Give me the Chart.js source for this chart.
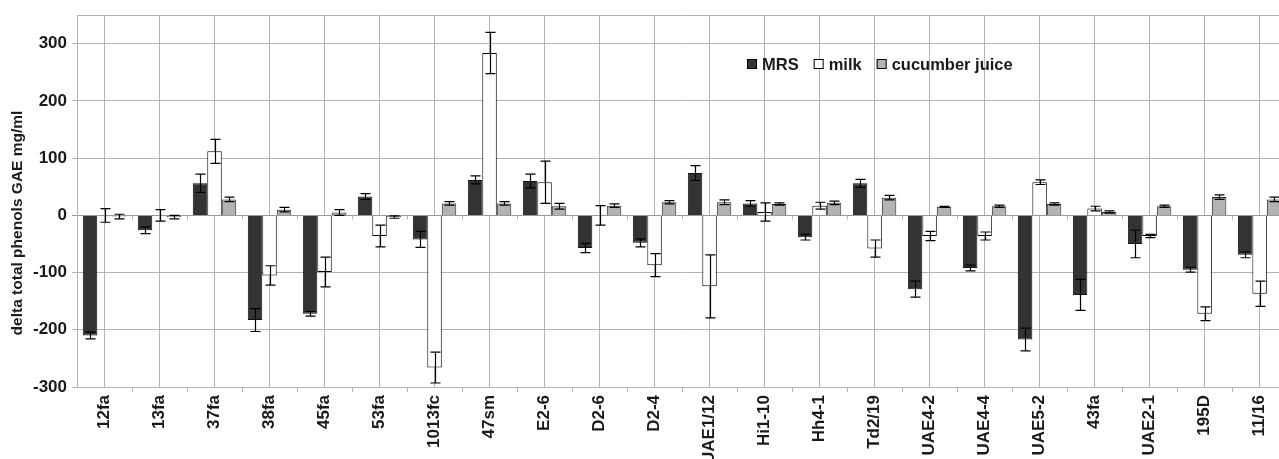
<!DOCTYPE html>
<html>
<head>
<meta charset="utf-8">
<script src="https://cdn.jsdelivr.net/npm/chart.js@4/dist/chart.umd.min.js"></script>
<style>
  html, body { margin: 0; padding: 0; background: #fff; overflow: hidden; }
  #wrap { width: 1288px; height: 459px; }
</style>
</head>
<body>
<div id="wrap"><canvas id="c" width="1288" height="459"></canvas></div>
<script>
// Strains
const categories = ['12fa','13fa','37fa','38fa','45fa','53fa','1013fc','47sm','E2-6','D2-6','D2-4','UAE1/12','Hi1-10','Hh4-1','Td2/19','UAE4-2','UAE4-4','UAE5-2','43fa','UAE2-1','195D','11/16'];

// Change in total phenols (GAE mg/ml) per growth medium, with error margins
const mrsValues = [-210, -26, 56, -183, -172, 33, -42, 62, 60, -57, -48, 74, 21, -38, 56, -129, -92, -217, -139, -50, -95, -69];
const mrsErrors = [6, 6, 16, 20, 4, 5, 14, 7, 12, 8, 7, 13, 5, 5, 7, 14, 5, 20, 27, 24, 4, 5];

const milkValues = [0, 0, 112, -105, -99, -36, -266, 284, 58, 0, -87, -124, 6, 17, -58, -36, -36, 58, 12, -36, -172, -137];
const milkErrors = [12, 10, 21, 17, 26, 19, 27, 36, 37, 17, 20, 55, 16, 6, 15, 8, 7, 4, 4, 3, 12, 22];

const cucumberValues = [-2, -3, 28, 10, 5, -3, 21, 21, 16, 17, 23, 23, 20, 22, 31, 15, 16, 20, 6, 16, 32, 28];
const cucumberErrors = [4, 3, 4, 4, 5, 2, 3, 3, 5, 3, 3, 4, 2, 3, 4, 1, 2, 2, 2, 2, 4, 4];

// Value axis
const yTicks = [-300, -200, -100, 0, 100, 200, 300];
const yMin = -300;
const yMax = 350;
const yTitle = 'delta total phenols GAE mg/ml';

const FONT = "'Liberation Sans', Arial, sans-serif";
const GRID = '#b3b3b3';
const INK = '#1a1a1a';

const errorSets = [mrsErrors, milkErrors, cucumberErrors];

// Error bars with caps, centred on each bar
const errorBarPlugin = {
  id: 'errorBars',
  afterDatasetsDraw(chart) {
    const ctx = chart.ctx;
    const y = chart.scales.y;
    ctx.save();
    ctx.strokeStyle = '#000';
    ctx.lineWidth = 1.2;
    chart.data.datasets.forEach((ds, i) => {
      const meta = chart.getDatasetMeta(i);
      meta.data.forEach((bar, j) => {
        const v = ds.data[j];
        const e = errorSets[i][j];
        const x = Math.round(bar.x) + 0.5;
        const yHi = y.getPixelForValue(v + e);
        const yLo = y.getPixelForValue(v - e);
        ctx.beginPath();
        ctx.moveTo(x, yHi); ctx.lineTo(x, yLo);
        ctx.moveTo(x - 5, yHi); ctx.lineTo(x + 5, yHi);
        ctx.moveTo(x - 5, yLo); ctx.lineTo(x + 5, yLo);
        ctx.stroke();
      });
    });
    ctx.restore();
  }
};

// Frame top edge, category boundary ticks, axis title and legend
const decorPlugin = {
  id: 'decor',
  beforeDatasetsDraw(chart) {
    const ctx = chart.ctx;
    const a = chart.chartArea;
    const ys = chart.scales.y;
    ctx.save();
    ctx.strokeStyle = GRID;
    ctx.lineWidth = 1;
    ctx.beginPath();
    ctx.moveTo(a.left, Math.round(a.top) + 0.5);
    ctx.lineTo(a.right, Math.round(a.top) + 0.5);
    const step = (a.right - a.left) / categories.length;
    const y0 = Math.round(ys.getPixelForValue(0)) + 0.5;
    const yb = Math.round(a.bottom);
    for (let k = 1; k < categories.length; k++) {
      const bx = Math.round(a.left + k * step) + 0.5;
      ctx.moveTo(bx, y0); ctx.lineTo(bx, y0 + 4);
      ctx.moveTo(bx, yb); ctx.lineTo(bx, yb + 5);
    }
    ctx.stroke();
    ctx.restore();
  },
  afterDraw(chart) {
    const ctx = chart.ctx;
    ctx.save();
    // axis title
    ctx.fillStyle = INK;
    ctx.font = 'bold 15.5px ' + FONT;
    ctx.translate(18, 223);
    ctx.rotate(-Math.PI / 2);
    ctx.textAlign = 'center';
    ctx.textBaseline = 'middle';
    ctx.fillText(yTitle, 0, 0);
    ctx.restore();

    // legend
    ctx.save();
    ctx.font = 'bold 16.5px ' + FONT;
    ctx.textBaseline = 'middle';
    ctx.textAlign = 'left';
    let x = 747;
    const cy = 64;
    chart.data.datasets.forEach(ds => {
      ctx.fillStyle = ds.backgroundColor;
      ctx.fillRect(x, cy - 5, 10, 10);
      ctx.strokeStyle = '#000';
      ctx.lineWidth = 1;
      ctx.strokeRect(x + 0.5, cy - 4.5, 9, 9);
      ctx.fillStyle = INK;
      ctx.fillText(ds.label, x + 15, cy + 1);
      x += 15 + ctx.measureText(ds.label).width + 15;
    });
    ctx.restore();
  }
};

new Chart(document.getElementById('c'), {
  type: 'bar',
  data: {
    labels: categories,
    datasets: [
      { label: 'MRS', data: mrsValues, backgroundColor: '#333333', borderColor: '#111111', borderWidth: 1 },
      { label: 'milk', data: milkValues, backgroundColor: '#ffffff', borderColor: '#000000', borderWidth: 1 },
      { label: 'cucumber juice', data: cucumberValues, backgroundColor: '#b3b3b3', borderColor: '#222222', borderWidth: 1 }
    ]
  },
  options: {
    responsive: false,
    animation: false,
    devicePixelRatio: 1,
    layout: { padding: { top: 14, left: 0, right: 0, bottom: 0 } },
    datasets: { bar: { categoryPercentage: 0.79, barPercentage: 1.0 } },
    plugins: {
      legend: { display: false },
      tooltip: { enabled: false }
    },
    scales: {
      x: {
        offset: true,
        grid: { offset: false, color: GRID, drawTicks: false, lineWidth: 1 },
        border: { display: true, color: GRID },
        ticks: {
          autoSkip: false,
          minRotation: 90,
          maxRotation: 90,
          padding: 8,
          color: INK,
          font: { family: FONT, size: 17, weight: 'bold' }
        },
        afterFit(scale) { scale.height = 72; }
      },
      y: {
        min: yMin,
        max: yMax,
        afterBuildTicks(scale) { scale.ticks = yTicks.map(value => ({ value })); },
        grid: {
          color: ctx => (ctx.tick && ctx.tick.value === 0 ? '#999999' : GRID),
          tickLength: 5,
          lineWidth: 1
        },
        border: { display: true, color: GRID },
        ticks: {
          padding: 5,
          color: INK,
          font: { family: FONT, size: 17, weight: 'bold' }
        },
        afterFit(scale) { scale.width = 77; }
      }
    }
  },
  plugins: [errorBarPlugin, decorPlugin]
});
</script>
</body>
</html>
